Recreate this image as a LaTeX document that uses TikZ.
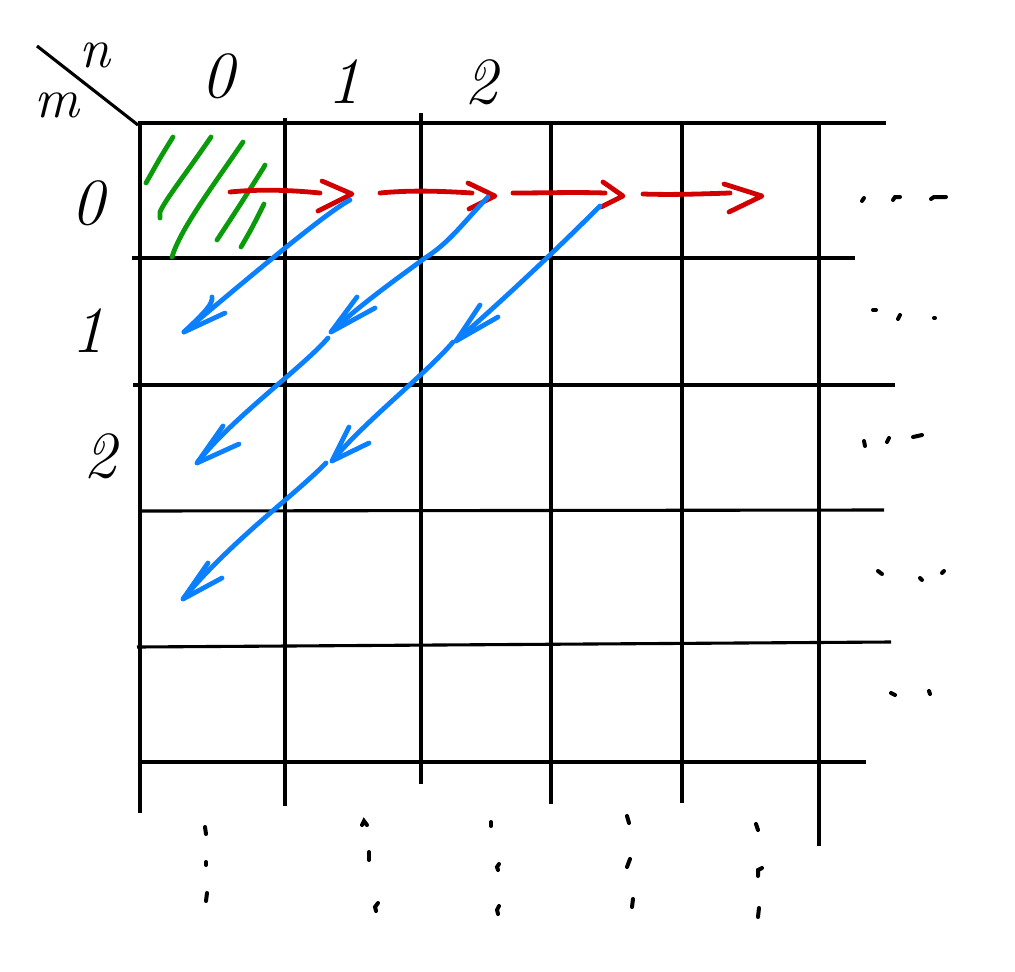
\documentclass[tikz,border=0pt]{standalone}
\usepackage{fontspec}
\begin{document}
\begin{tikzpicture}[x=1pt,y=-1pt,
  grid/.style={line width=3.1pt,black},
  pen/.style={line width=4.8pt,line cap=round,line join=round},
  gpen/.style={pen,draw=hgreen},
  rpen/.style={pen,draw=hred},
  bpen/.style={pen,draw=hblue},
  dotpen/.style={line width=4pt,line cap=round,black},
  lab/.style={inner sep=0pt,font=\fontsize{66}{66}\selectfont\itshape},
  slab/.style={inner sep=0pt,font=\fontsize{56}{56}\selectfont\itshape}]
\definecolor{hgreen}{RGB}{10,155,10}
\definecolor{hred}{RGB}{210,0,0}
\definecolor{hblue}{RGB}{10,128,255}
\useasboundingbox (0,0) rectangle (1015,972);
\fill[white] (0,0) rectangle (1015,972);
% grid verticals
\draw[grid] (140,123) -- (140,813);
\draw[grid] (285,118) -- (285,806);
\draw[grid] (421,113) -- (421,784);
\draw[grid] (551,123) -- (551,804);
\draw[grid] (682,123) -- (682,803);
\draw[grid] (819,123) -- (819,846);
% grid horizontals
\draw[grid] (138,123) -- (886,123);
\draw[grid] (132,258) -- (855,258);
\draw[grid] (133,385) -- (895,385);
\draw[grid] (140,511) -- (884,510);
\draw[grid] (137,647) -- (891,642);
\draw[grid] (140,762) -- (866,762);
% corner diagonal
\draw[grid] (37,46) -- (138,125);
\node[slab] (n) at (95,55) {n};
\node[slab] (m) at (57,105) {m};
% column labels
\node[lab] (c0) at (218,76) {0};
\node[lab] (c1) at (344,82) {1};
\node[lab] (c2) at (481,82) {2};
% row labels
\node[lab] (r0) at (88,203) {0};
\node[lab] (r1) at (88,331) {1};
\node[lab] (r2) at (100,456) {2};
% green hatching
\draw[gpen] (173,137) .. controls (160,158) .. (146,183);
\draw[gpen] (211,137) .. controls (185,175) and (165,200) .. (160,212) -- (160,218);
\draw[gpen] (243,142) .. controls (210,190) and (180,230) .. (172,257);
\draw[gpen] (265,165) -- (264,167) .. controls (240,205) .. (217,240);
\draw[gpen] (264,204) .. controls (252,228) .. (241,247);
% red arrows
\draw[rpen] (230,192) .. controls (260,189) and (290,190) .. (320,193);
\draw[rpen] (322,181) -- (352,194) -- (318,211);
\draw[rpen] (380,193) .. controls (410,190) and (440,191) .. (472,193);
\draw[rpen] (468,183) -- (495,196) -- (469,209);
\draw[rpen] (513,193) .. controls (545,193) and (575,192) .. (605,193);
\draw[rpen] (603,182) -- (623,196) -- (601,207);
\draw[rpen] (643,194) .. controls (672,195) and (700,194) .. (730,193);
\draw[rpen] (724,184) -- (762,196) -- (729,212);
% blue arrows, first diagonal
\draw[bpen] (350,200) .. controls (325,213) and (240,285) .. (184,332);
\draw[bpen] (212,297) .. controls (213,304) and (205,312) .. (184,332) -- (225,313);
% second diagonal
\draw[bpen] (488,197) .. controls (462,224) and (450,242) .. (425,258) .. controls (395,280) and (360,305) .. (331,332);
\draw[bpen] (357,297) -- (331,332) -- (375,308);
\draw[bpen] (328,338) .. controls (302,368) and (232,418) .. (197,463);
\draw[bpen] (223,426) -- (197,463) -- (239,444);
% third diagonal
\draw[bpen] (600,206) .. controls (572,234) and (520,285) .. (456,341);
\draw[bpen] (480,305) -- (456,341) -- (498,317);
\draw[bpen] (453,342) .. controls (426,374) and (366,420) .. (332,461);
\draw[bpen] (349,427) -- (332,461) -- (369,443);
\draw[bpen] (326,463) .. controls (296,494) and (232,540) .. (183,599);
\draw[bpen] (208,563) -- (183,599) -- (222,578);
% right-hand dots
\draw[dotpen] (862,201) -- (864,198);
\draw[dotpen] (893,200) -- (895,197) -- (900,197);
\draw[dotpen] (931,199) -- (934,197) -- (946,197);
\draw[dotpen] (873,310) -- (876,310);
\draw[dotpen] (898,319) -- (900,315);
\draw[dotpen] (934,318) -- (935,318);
\draw[dotpen] (864,441) -- (865,446);
\draw[dotpen] (887,442) -- (889,438);
\draw[dotpen] (913,437) -- (922,435);
\draw[dotpen] (878,571) -- (882,574);
\draw[dotpen] (920,578) -- (922,580);
\draw[dotpen] (942,573) -- (944,571);
\draw[dotpen] (891,693) -- (895,695);
\draw[dotpen] (929,691) -- (930,694);
% bottom dots
\draw[dotpen] (205,827) -- (206,834);
\draw[dotpen] (206,862) -- (206,865);
\draw[dotpen] (207,893) -- (206,901);
\draw[dotpen] (362,825) -- (364,821) -- (367,825);
\draw[dotpen] (369,852) -- (369,860);
\draw[dotpen] (378,903) -- (375,907) -- (376,911);
\draw[dotpen] (491,822) -- (491,826);
\draw[dotpen] (499,864) -- (497,867) -- (498,870);
\draw[dotpen] (499,906) -- (497,910) -- (498,914);
\draw[dotpen] (627,816) -- (629,823);
\draw[dotpen] (630,859) -- (627,867);
\draw[dotpen] (633,899) -- (632,907);
\draw[dotpen] (756,824) -- (758,830);
\draw[dotpen] (762,868) -- (758,870) -- (758,876);
\draw[dotpen] (759,908) -- (758,917);
\end{tikzpicture}
\end{document}
